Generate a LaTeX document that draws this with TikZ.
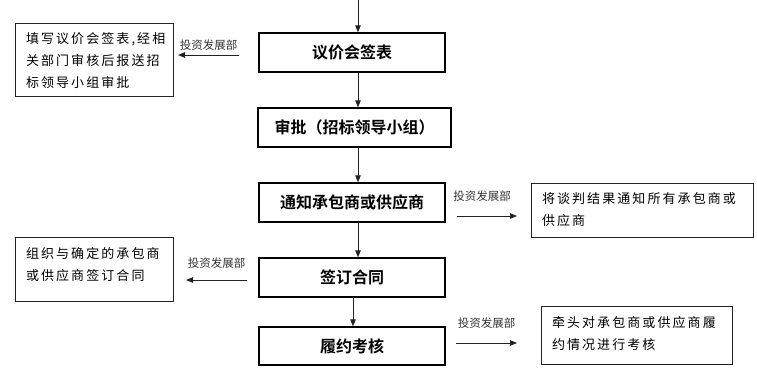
\documentclass[tikz,border=0pt]{standalone}
\usepackage{fontspec}
\setmainfont{Noto Sans CJK SC}
\newfontfamily\cjkbold{Noto Sans CJK SC Bold}
\newfontfamily\cjkside[LetterSpace=16]{Noto Sans CJK SC}
\usetikzlibrary{arrows.meta}
\definecolor{ink}{HTML}{222222}
\definecolor{lblc}{HTML}{333333}
\newcommand{\sidetxt}[3]{\parbox[c][#2][t]{#1}{\vspace*{10pt}\hspace*{11pt}\parbox[t]{\dimexpr#1-12pt\relax}{\raggedright\cjkside\fontsize{13pt}{22pt}\selectfont #3}}}
\begin{document}
\begin{tikzpicture}[x=1pt,y=-1pt,
  mainbox/.style={draw=black,line width=1.4pt,minimum height=39pt,inner sep=0pt,
    font=\cjkbold\fontsize{16pt}{18pt}\selectfont},
  sidebox/.style={draw=ink,line width=0.9pt,inner sep=0pt},
  arr/.style={draw=ink,line width=0.9pt,-{Triangle[length=7pt,width=5.5pt]}},
  lbl/.style={text=lblc,inner sep=0pt,font=\fontsize{11.5pt}{13pt}\selectfont}]
\useasboundingbox (0,0) rectangle (757,376);

% main column
\node[mainbox,minimum width=186pt] (b1) at (352,52.5) {议价会签表};
\node[mainbox,minimum width=193pt] (b2) at (354.5,127.5) {审批（招标领导小组）};
\node[mainbox,minimum width=186pt] (b3) at (352,202.5) {通知承包商或供应商};
\node[mainbox,minimum width=186pt] (b4) at (352,277.5) {签订合同};
\node[mainbox,minimum width=186pt,minimum height=38pt] (b5) at (352,346) {履约考核};

\coordinate (top) at (358,0);
\draw[arr] (top) -- ([xshift=6pt]b1.north);
\draw[arr] ([xshift=6pt]b1.south) -- ([xshift=3.5pt]b2.north);
\draw[arr] ([xshift=3.5pt]b2.south) -- ([xshift=6pt]b3.north);
\draw[arr] ([xshift=6pt]b3.south) -- ([xshift=6pt]b4.north);
\draw[arr] ([xshift=1pt]b4.south) -- ([xshift=1pt]b5.north);

% side boxes
\node[sidebox] (s1) at (94,59.5) {\sidetxt{158pt}{73pt}{填写议价会签表,经相\\关部门审核后报送招\\标领导小组审批}};
\node[sidebox] (s2) at (642,210) {\sidetxt{222pt}{54pt}{将谈判结果通知所有承包商或\\供应商}};
\node[sidebox] (s3) at (94,269) {\sidetxt{158pt}{64pt}{组织与确定的承包商\\或供应商签订合同}};
\node[sidebox] (s4) at (636.5,335) {\sidetxt{191pt}{58pt}{牵头对承包商或供应商履\\约情况进行考核}};

% side arrows
\coordinate (a1s) at (239,55);  \coordinate (a1e) at (178,55);
\coordinate (a2s) at (457,216); \coordinate (a2e) at (517,216);
\coordinate (a3s) at (247,280); \coordinate (a3e) at (186,280);
\coordinate (a4s) at (456,343); \coordinate (a4e) at (517,343);
\draw[arr] (a1s) -- node[lbl,yshift=10pt] (l1) {投资发展部} (a1e);
\draw[arr] (a2s) -- node[lbl,yshift=20pt,xshift=-5pt] (l2) {投资发展部} (a2e);
\draw[arr] (a3s) -- node[lbl,yshift=17pt] (l3) {投资发展部} (a3e);
\draw[arr] (a4s) -- node[lbl,yshift=20pt] (l4) {投资发展部} (a4e);
\end{tikzpicture}
\end{document}
